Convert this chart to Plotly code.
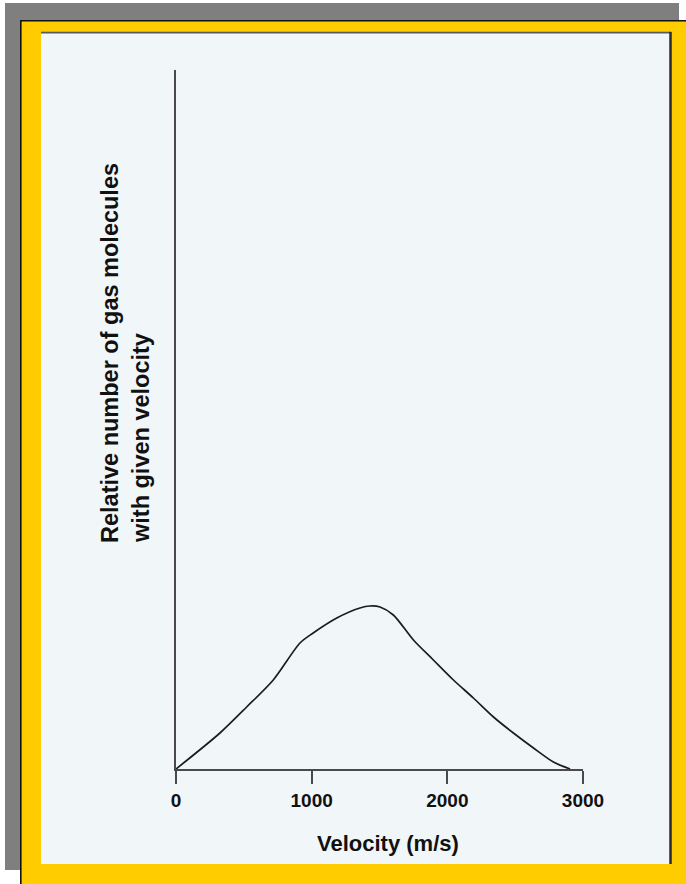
import plotly.graph_objects as go

# ---- data ----
velocity = [0, 324, 521, 717, 914, 1011, 1185, 1356, 1430, 1504, 1602, 1750,
            1897, 2045, 2192, 2340, 2487, 2635, 2782, 2905]
relative_number = [0, 36, 62, 89, 126, 136, 151, 161, 163, 162, 154, 129,
                   109, 89, 71, 52, 36, 21, 7, 0]
x_ticks = [0, 1000, 2000, 3000]
x_tick_labels = ["0", "1000", "2000", "3000"]
y_max = 699
x_title = "Velocity (m/s)"
y_title_lines = ["Relative number of gas molecules", "with given velocity"]

W, H = 686, 884
L, R, T, B = 176, 583, 70, 769  # plot area in pixels


def px(xp):
    return (xp - L) / (R - L)


def py(yp):
    return (B - yp) / (B - T)


FONT = "Liberation Sans, Arial, Helvetica, sans-serif"

fig = go.Figure()
fig.add_trace(go.Scatter(
    x=velocity, y=relative_number, mode="lines",
    line=dict(color="#1c1c1c", width=1.7, shape="spline", smoothing=0.8),
    hoverinfo="skip", showlegend=False,
))

shapes = [
    # gray shadow
    dict(type="rect", xref="paper", yref="paper", layer="below",
         x0=px(5), x1=px(679), y0=py(3), y1=py(870),
         fillcolor="#7f7f7f", line=dict(width=0)),
    # yellow frame
    dict(type="rect", xref="paper", yref="paper", layer="below",
         x0=px(20), x1=px(700), y0=py(20), y1=py(900),
         fillcolor="#ffcc00", line=dict(width=0)),
    # black edges of yellow frame
    dict(type="line", xref="paper", yref="paper", layer="below",
         x0=px(21), x1=px(700), y0=py(20.8), y1=py(20.8),
         line=dict(color="#111111", width=1.6)),
    dict(type="line", xref="paper", yref="paper", layer="below",
         x0=px(20.8), x1=px(20.8), y0=py(20), y1=py(900),
         line=dict(color="#111111", width=1.6)),
    # inner panel
    dict(type="rect", xref="paper", yref="paper", layer="below",
         x0=px(41), x1=px(670), y0=py(31), y1=py(864),
         fillcolor="#f1f6f9", line=dict(width=0)),
    dict(type="line", xref="paper", yref="paper", layer="below",
         x0=px(41), x1=px(671), y0=py(32.5), y1=py(32.5),
         line=dict(color="#5a5a5a", width=2)),
    dict(type="line", xref="paper", yref="paper", layer="below",
         x0=px(670.5), x1=px(670.5), y0=py(32), y1=py(864),
         line=dict(color="#2a2a2a", width=2.5)),
]

annotations = [
    dict(text=x_title, xref="paper", yref="paper", x=px(388), y=py(843),
         xanchor="center", yanchor="middle", showarrow=False,
         font=dict(family=FONT, size=22, color="#111111", weight="bold")),
    dict(text=y_title_lines[0], xref="paper", yref="paper", x=px(110), y=py(545),
         xanchor="center", yanchor="bottom", textangle=-90, showarrow=False,
         font=dict(family=FONT, size=23.5, color="#111111", weight="bold")),
    dict(text=y_title_lines[1], xref="paper", yref="paper", x=px(141), y=py(545),
         xanchor="center", yanchor="bottom", textangle=-90, showarrow=False,
         font=dict(family=FONT, size=23.5, color="#111111", weight="bold")),
]

fig.update_layout(
    width=W, height=H, autosize=False,
    margin=dict(l=L, r=W - R, t=T, b=H - B, pad=0),
    paper_bgcolor="white", plot_bgcolor="rgba(0,0,0,0)",
    shapes=shapes, annotations=annotations,
    xaxis=dict(range=[0, 3000], tickvals=x_ticks, ticktext=x_tick_labels,
               showgrid=False, zeroline=False, showline=True,
               linecolor="#4a4a4a", linewidth=2,
               ticks="outside", ticklen=13, tickwidth=2, tickcolor="#4a4a4a",
               tickfont=dict(family=FONT, size=19, color="#111111", weight="bold"),
               fixedrange=True),
    yaxis=dict(range=[0, y_max], showticklabels=False, ticks="",
               showgrid=False, zeroline=False, showline=True,
               linecolor="#4a4a4a", linewidth=2, fixedrange=True),
)

fig.write_html("out.html", config={"displayModeBar": False},
               post_script="document.body.style.margin='0';document.body.style.overflow='hidden';")
